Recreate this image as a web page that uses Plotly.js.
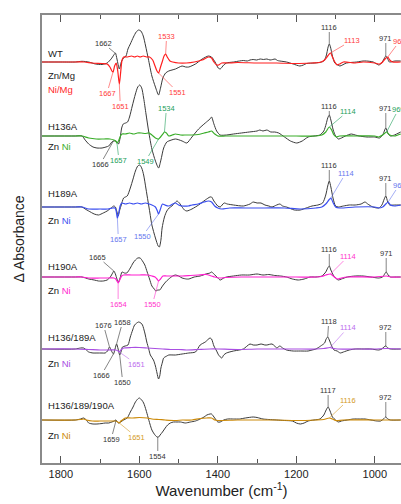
<!DOCTYPE html>
<html>
<head>
<meta charset="utf-8">
<script src="https://cdn.plot.ly/plotly-3.0.1.min.js"></script>
<style>html,body{margin:0;padding:0;background:#fff}#chart{width:401px;height:504px}</style>
</head>
<body>
<div id="chart"></div>
<script>
// Difference spectra, [wavenumber (cm-1), ΔA (arb. units)] relative to each panel baseline
const wtZnMg = [[1848,0],[1800,0],[1763,0],[1746,0.7],[1729,0],[1712,-2],[1695,-2.5],[1682,-1],[1672,3],[1665,7],[1661,9],[1657,3],[1651,-7],[1646,0],[1640,4],[1634,6],[1629,13],[1623,18],[1615,25],[1608,30],[1602,32],[1596,31],[1590,26],[1584,16],[1577,3],[1568,-14],[1559,-25],[1551,-33],[1546,-26],[1540,-16],[1533,-11],[1525,-9],[1508,-7],[1491,-4],[1482,-5],[1474,-5],[1457,-2],[1440,3],[1424,6],[1416,5],[1407,0],[1399,-6],[1394,-7],[1385,-3],[1378,-1],[1360,0],[1345,1],[1335,1.5],[1325,1],[1318,2],[1310,2.5],[1301,2],[1292,3],[1284,2.5],[1275,3],[1267,2],[1260,2.5],[1254,3],[1248,1.5],[1242,1],[1225,0],[1208,-2],[1191,-4],[1182,-3],[1174,-1.5],[1153,-1],[1136,0],[1130,1],[1124,6],[1119,15],[1116,18],[1113,15],[1108,6],[1102,-1],[1094,-3],[1089,-4],[1072,-1],[1046,0],[1030,1],[1021,1],[1004,0],[990,-3],[985,-2],[978,2],[972,6],[967,3],[963,0],[949,1],[934,1]];
const wtNiMg = [[1848,0],[1763,0],[1740,0],[1720,-1],[1695,-1.5],[1682,-2],[1675,-5],[1670,-9],[1667,-10],[1663,-4],[1659,-1],[1655,-9],[1651,-22],[1648,-12],[1644,2],[1640,5],[1630,5],[1620,6],[1612,5],[1605,6],[1598,5],[1590,6],[1582,5],[1574,5],[1566,2],[1560,-4],[1555,-9],[1551,-11],[1546,-5],[1541,1],[1537,6],[1533,8],[1529,5],[1522,1],[1515,0],[1500,-1],[1480,-1],[1460,0],[1440,2],[1424,5],[1416,4],[1410,0],[1403,-3],[1398,-3],[1390,-1],[1375,-1],[1350,-0.5],[1300,-1],[1250,-1],[1200,-1.5],[1160,-1],[1140,-0.5],[1128,2],[1120,6],[1113,9],[1108,5],[1102,0],[1096,-3],[1090,-2],[1080,0],[1050,-1],[1030,0],[1000,-1],[988,-2],[980,0],[974,3],[967,5],[962,2],[955,0],[934,0]];
const h136aZn = [[1848,0],[1763,0],[1746,0],[1738,-4],[1729,-8],[1718,-11],[1708,-12],[1695,-12],[1685,-11],[1678,-10],[1670,-6],[1666,-5],[1662,-5],[1657,-6],[1653,-8],[1649,-2],[1645,8],[1641,12],[1635,13],[1630,14],[1625,19],[1618,30],[1610,42],[1604,49],[1599,51],[1594,48],[1589,38],[1583,22],[1576,4],[1568,-13],[1559,-25],[1551,-32],[1545,-24],[1538,-12],[1530,-6],[1525,-5],[1508,-3],[1491,-5],[1479,-7],[1466,-1],[1449,7],[1432,13],[1420,17],[1416,19],[1410,12],[1403,5],[1394,1],[1378,1],[1360,2],[1340,3],[1320,4],[1300,5],[1293,6],[1285,5],[1275,6],[1265,4],[1255,4],[1245,3],[1230,-1],[1215,-5],[1199,-7],[1185,-5],[1170,-1],[1155,0],[1140,1],[1130,5],[1124,12],[1120,18],[1116,21],[1112,16],[1106,6],[1100,0],[1093,-3],[1085,-2],[1075,0],[1060,2],[1050,1],[1040,0],[1020,-1],[1000,-1],[988,-2],[980,1],[972,8],[966,2],[960,0],[950,1],[934,4]];
const h136aNi = [[1848,0],[1763,0],[1746,0],[1729,-2],[1710,-3],[1690,-3],[1675,-3],[1665,-4],[1660,-5],[1657,-7],[1653,-5],[1648,0],[1644,2],[1636,2],[1625,3],[1615,2],[1605,3],[1595,3],[1585,2.5],[1575,3],[1568,1],[1559,-2],[1551,-3],[1546,-1],[1540,2],[1536,4],[1531,3],[1525,0],[1516,1],[1508,2],[1495,1],[1480,1],[1466,1],[1450,1.5],[1435,3],[1424,4],[1416,5],[1408,2],[1400,0],[1380,0],[1340,0],[1300,0],[1250,0],[1200,0],[1150,0],[1135,1],[1125,4],[1116,9],[1110,6],[1104,1],[1098,-1],[1090,0],[1050,0],[1000,0],[990,-1],[980,1],[970,4],[962,1],[950,0],[934,2]];
const h189aZn = [[1848,0],[1763,0],[1746,0],[1738,-2],[1729,-4],[1715,-7],[1704,-8],[1692,-6],[1682,-4],[1672,-1],[1665,1],[1661,0],[1657,-5],[1654,-9],[1650,-3],[1646,2],[1640,9],[1631,11],[1623,19],[1616,28],[1610,36],[1604,41],[1599,42],[1594,39],[1589,32],[1583,18],[1578,6],[1573,-6],[1568,-18],[1559,-31],[1552,-39],[1549,-40],[1545,-33],[1542,-21],[1536,-10],[1530,-4],[1524,-1],[1517,1],[1510,4],[1504,6],[1498,4],[1491,0],[1485,-3],[1479,-4],[1466,-2],[1449,2],[1432,7],[1420,10],[1416,10],[1410,6],[1400,1],[1394,0],[1384,4],[1376,3],[1360,2],[1335,1],[1318,3],[1310,5],[1300,4],[1290,4],[1280,2],[1270,1],[1262,0],[1250,2],[1242,3],[1235,1],[1225,0],[1205,-3],[1190,-3],[1175,-1],[1160,1],[1145,2],[1133,4],[1125,12],[1120,21],[1116,26],[1112,20],[1106,8],[1100,1],[1093,0],[1080,1],[1065,2],[1050,2],[1035,3],[1025,5],[1018,3],[1005,0],[990,-1],[982,2],[976,8],[972,11],[967,5],[962,2],[950,2],[934,2]];
const h189aNi = [[1848,0],[1763,0],[1746,0],[1729,-2],[1700,-2],[1680,-2],[1668,-1],[1662,-1],[1659,-4],[1656,-11],[1653,-7],[1649,1],[1645,4],[1635,3],[1625,4],[1615,3],[1605,4],[1595,3],[1585,4],[1575,3],[1568,2],[1559,0],[1554,-4],[1551,-7],[1547,-3],[1541,3],[1535,2],[1525,1],[1515,3],[1508,4],[1500,2],[1491,1],[1475,1],[1466,2],[1450,3],[1435,5],[1424,6],[1416,5],[1408,1],[1400,-1],[1390,-2],[1370,-1],[1330,-1],[1280,-1],[1230,-1],[1190,-2],[1150,-1],[1135,0],[1125,3],[1117,7],[1112,9],[1106,4],[1100,0],[1090,-1],[1050,0],[1000,0],[990,-1],[980,0],[972,3],[966,5],[960,2],[950,1],[934,2]];
const h190aZn = [[1848,0],[1763,0],[1746,0],[1729,-2],[1715,-3],[1704,-4],[1692,-4],[1682,-3],[1674,0],[1668,4],[1665,6],[1661,3],[1657,-2],[1653,-5],[1649,-1],[1644,5],[1638,4],[1632,4],[1623,9],[1616,14],[1610,17],[1604,19],[1598,19],[1592,16],[1586,12],[1580,5],[1574,-2],[1568,-9],[1562,-12],[1558,-14],[1553,-13],[1548,-13],[1541,-9],[1533,-5],[1525,-2],[1515,1],[1508,2],[1500,1],[1491,-1],[1480,-2],[1474,-2],[1460,0],[1445,1],[1430,3],[1420,4],[1416,5],[1410,3],[1400,-1],[1394,-3],[1385,-1],[1378,0],[1360,1],[1340,2],[1320,2],[1300,3],[1285,2],[1270,2.5],[1255,1.5],[1240,1],[1225,0],[1210,-2],[1195,-3],[1180,-2],[1165,0],[1150,0],[1135,1],[1125,5],[1120,9],[1116,11],[1112,7],[1106,2],[1100,-1],[1093,-3],[1085,-2],[1070,0],[1050,1],[1030,1],[1010,0],[990,-1],[980,0],[975,3],[971,5],[966,2],[960,0],[950,0],[934,0]];
const h190aNi = [[1848,0],[1763,0],[1746,0],[1729,-1],[1700,-1],[1680,-1],[1665,-1],[1660,-2],[1657,-4],[1654,-6],[1650,-3],[1645,1],[1640,2],[1620,2],[1600,2],[1580,2],[1568,1],[1560,0],[1555,-2],[1551,-4],[1546,-2],[1540,1],[1530,1],[1510,1],[1490,1],[1470,1.5],[1450,2],[1430,2.5],[1416,1],[1408,0],[1395,-1],[1380,-0.5],[1340,0],[1300,0],[1250,0],[1200,0],[1150,0],[1135,0.5],[1125,2],[1113,3],[1106,1],[1100,-1],[1094,-2],[1085,-1],[1070,0],[1000,0],[970,1],[960,0],[934,0]];
const h136189aZn = [[1848,0],[1763,0],[1750,1],[1742,1],[1735,-1],[1729,-3],[1718,-4],[1708,-4],[1695,-4],[1687,-4],[1681,-2],[1676,2],[1671,-2],[1666,-5],[1662,0],[1658,5],[1654,0],[1650,-6],[1646,-2],[1643,2],[1636,3],[1629,4],[1623,12],[1617,19],[1612,24],[1602,27],[1596,26],[1592,24],[1586,16],[1581,7],[1576,0],[1572,-6],[1564,-11],[1559,-17],[1555,-24],[1551,-30],[1548,-27],[1545,-19],[1541,-13],[1538,-9],[1530,-7],[1525,-6],[1508,-6],[1491,-5],[1474,-4],[1457,-3],[1445,4],[1432,7],[1420,11],[1416,10],[1410,3],[1403,-2],[1398,-6],[1390,-9],[1385,-6],[1378,-4],[1360,-2],[1345,-1],[1335,0],[1318,5],[1310,4],[1300,4],[1290,5],[1280,4],[1275,4],[1262,5],[1255,3],[1250,1],[1242,3],[1235,1],[1225,-1],[1208,-2],[1190,-2],[1170,-2],[1160,-1],[1150,0],[1138,3],[1128,6],[1124,10],[1120,12],[1115,8],[1110,3],[1104,-1],[1096,-2],[1088,-4],[1080,-3],[1065,-1],[1050,0],[1030,0],[1010,0],[990,-1],[982,0],[977,2],[972,3],[967,1],[960,0],[934,0]];
const h136189aNi = [[1848,0],[1763,0],[1729,-0.5],[1700,-1],[1680,-1],[1660,-1],[1654,-2],[1651,-3],[1647,-1],[1640,1],[1620,1.5],[1600,1.5],[1580,1],[1560,0.5],[1540,0],[1520,-0.5],[1500,-0.5],[1480,-1],[1450,-0.5],[1420,0],[1400,0],[1350,-0.5],[1300,0],[1250,0],[1200,0],[1150,0],[1130,0.5],[1114,1.5],[1105,0.5],[1095,0],[1050,0],[1000,0],[970,0.5],[934,0]];
const h136189190aZn = [[1848,0],[1763,0],[1750,1],[1742,2],[1735,0],[1729,-3],[1718,-4],[1708,-4],[1695,-3.5],[1687,-3],[1678,-3],[1670,-2],[1664,-1],[1660,0],[1656,-2],[1653,-3],[1648,-2],[1640,0],[1631,2],[1623,8],[1616,13],[1610,18],[1604,21],[1600,22],[1594,20],[1589,17],[1583,10],[1578,3],[1573,-4],[1568,-10],[1562,-14],[1555,-17],[1551,-17],[1547,-15],[1541,-12],[1534,-8],[1528,-5],[1521,-3],[1513,-2],[1504,-2],[1495,-2],[1483,-3],[1470,-2],[1457,-1],[1445,1],[1435,3],[1428,5],[1420,6],[1416,6],[1408,2],[1400,-2],[1394,-2],[1385,0],[1375,1],[1360,1],[1345,1],[1330,2],[1310,3],[1300,2.5],[1285,1],[1270,0.5],[1250,0],[1230,-0.5],[1210,-1],[1200,-3],[1190,-4],[1180,-3],[1170,-1],[1155,0],[1140,1],[1130,5],[1124,10],[1119,13],[1114,9],[1108,3],[1100,0],[1093,-2],[1085,-1],[1070,0],[1055,1],[1040,1],[1025,1],[1010,0],[995,-1],[985,-1],[978,1],[972,3],[967,1],[960,0],[934,0]];
const h136189190aNi = [[1848,0],[1763,0],[1750,0.5],[1742,1],[1735,0],[1720,-1],[1700,-1],[1680,-1],[1665,-1],[1660,-1],[1655,-2],[1651,-3],[1647,-1],[1640,1],[1636,2],[1620,2],[1600,2.5],[1580,2],[1568,1],[1550,0.5],[1534,0],[1508,-0.5],[1490,0],[1466,0],[1445,1.5],[1428,2],[1416,2],[1408,0],[1400,-0.5],[1350,0],[1300,0],[1250,0],[1200,-0.5],[1150,0],[1130,0.5],[1116,2],[1108,1],[1100,-0.5],[1080,0],[1000,0],[934,0]];

const panelNames = ['WT','H136A','H189A','H190A','H136/189A','H136/189/190A'];
const znSeries = [wtZnMg, h136aZn, h189aZn, h190aZn, h136189aZn, h136189190aZn];
const niSeries = [wtNiMg, h136aNi, h189aNi, h190aNi, h136189aNi, h136189190aNi];
const niColors = ['#ff1f1f','#3aad2a','#3b4ff0','#ff1fcf','#a94fe2','#cc8a0a'];
const labelColors = ['#ff3b3b','#22a05a','#6677ee','#ff33cc','#bb6cee','#d49a25'];
const panelOffsets = [0,-74,-145,-215,-287,-358];

// peak labels: [panel, series('zn'|'ni'), wavenumber of mark, text, dx, dy]
const peakLabels = [
 [0,'zn',1662,'1662',-12,-10],[0,'ni',1667,'1667',-6,21],[0,'ni',1651,'1651',1,22],[0,'ni',1533,'1533',1,-18],[0,'ni',1551,'1551',19,19],
 [0,'zn',1116,'1116',0,-17],[0,'ni',1113,'1113',22,-13],[0,'zn',972,'971',0,-18],[0,'ni',967,'969',12,-16],
 [1,'zn',1666,'1666',-13,23],[1,'ni',1657,'1657',2,17],[1,'ni',1551,'1549',-13,22],[1,'ni',1536,'1534',2,-24],
 [1,'zn',1116,'1116',0,-9],[1,'ni',1116,'1114',19,-16],[1,'zn',972,'971',0,-20],[1,'ni',970,'969',12,-23],
 [2,'ni',1656,'1657',1,21],[2,'ni',1551,'1550',-16,22],[2,'zn',1116,'1116',0,-16],[2,'ni',1112,'1114',15,-25],[2,'zn',972,'971',0,-18],[2,'ni',966,'969',11,-17],
 [3,'zn',1665,'1665',-16,-14],[3,'ni',1654,'1654',0,21],[3,'ni',1551,'1550',-6,23],[3,'zn',1116,'1116',0,-17],[3,'ni',1113,'1114',18,-18],[3,'zn',971,'971',0,-19],
 [4,'zn',1676,'1676',-6,-22],[4,'zn',1658,'1658',6,-22],[4,'zn',1666,'1666',-12,21],[4,'zn',1650,'1650',3,27],[4,'ni',1651,'1651',17,12],
 [4,'zn',1120,'1118',1,-16],[4,'ni',1114,'1114',18,-20],[4,'zn',972,'972',0,-19],
 [5,'zn',1659,'1659',-5,19],[5,'ni',1651,'1651',17,14],[5,'zn',1553,'1554',0,19],[5,'zn',1119,'1117',0,-17],[5,'ni',1116,'1116',19,-18],[5,'zn',972,'972',0,-20]
];

const FONT = 'Liberation Sans, Arial, Helvetica, sans-serif';
const traces = [];
const annotations = [];

function valAt(series, w){
  let best = series[0];
  for (const p of series) if (Math.abs(p[0]-w) < Math.abs(best[0]-w)) best = p;
  return best[1];
}

for (let i=0;i<6;i++){
  const off = panelOffsets[i];
  traces.push({x: znSeries[i].map(p=>p[0]), y: znSeries[i].map(p=>p[1]+off), mode:'lines',
    line:{color:'#3a3a3a', width:1, shape:'spline', smoothing:0.7}, hoverinfo:'skip'});
}
for (let i=0;i<6;i++){
  const off = panelOffsets[i];
  traces.push({x: niSeries[i].map(p=>p[0]), y: niSeries[i].map(p=>p[1]+off), mode:'lines',
    line:{color:niColors[i], width:1.2, shape:'spline', smoothing:0.7}, hoverinfo:'skip'});
}

for (const [pi, s, w, txt, dx, dy] of peakLabels){
  const series = s==='zn' ? znSeries[pi] : niSeries[pi];
  const col = s==='zn' ? '#333333' : labelColors[pi];
  annotations.push({x:w, y:valAt(series,w)+panelOffsets[pi], xref:'x', yref:'y', text:txt,
    showarrow:true, arrowhead:0, arrowwidth:0.6, arrowcolor:col, ax:dx, ay:dy, standoff:0,
    font:{family:FONT, size:7.5, color:col}, borderpad:0});
}

// panel names
const nameDy = [9, 10, 14, 11, 12, 15];
const znDy = [-13, -10, -13, -13, -14, -15];
for (let i=0;i<6;i++){
  const base = panelOffsets[i];
  annotations.push({x:0.011, xref:'paper', y:base+nameDy[i], yref:'y', text:panelNames[i], showarrow:false,
    xanchor:'left', yanchor:'middle', font:{family:FONT, size:9.5, color:'#222'}});
  if (i===0){
    annotations.push({x:0.011, xref:'paper', y:base-13, yref:'y', text:'Zn/Mg', showarrow:false,
      xanchor:'left', yanchor:'middle', font:{family:FONT, size:9.5, color:'#222'}});
    annotations.push({x:0.011, xref:'paper', y:base-27, yref:'y', text:'Ni/Mg', showarrow:false,
      xanchor:'left', yanchor:'middle', font:{family:FONT, size:9.5, color:niColors[0]}});
  } else {
    annotations.push({x:0.011, xref:'paper', y:base+znDy[i], yref:'y',
      text:'Zn <span style="color:'+niColors[i]+'">Ni</span>', showarrow:false,
      xanchor:'left', yanchor:'middle', font:{family:FONT, size:9.5, color:'#222'}});
  }
}

const layout = {
  width:401, height:504,
  margin:{l:42, r:0, t:15, b:41},
  paper_bgcolor:'#fff', plot_bgcolor:'#fff',
  showlegend:false,
  font:{family:FONT, color:'#222'},
  xaxis:{range:[1848, 933.3], tick0:1000, dtick:200, ticks:'inside', ticklen:7, tickwidth:1, tickcolor:'#555',
    minor:{dtick:100, ticks:'inside', ticklen:4, tickwidth:1, tickcolor:'#555'},
    showline:true, linecolor:'#8a8a8a', linewidth:2, mirror:'ticks', showgrid:false, zeroline:false,
    tickfont:{family:FONT, size:11, color:'#222'},
    title:{text:'Wavenumber (cm<sup>-1</sup>)', font:{family:FONT, size:15, color:'#222'}, standoff:6}},
  yaxis:{range:[-401, 47], showticklabels:false, ticks:'', showline:true, linecolor:'#8a8a8a', linewidth:2,
    showgrid:false, zeroline:false,
    title:{text:'Δ Absorbance', font:{family:FONT, size:14, color:'#222'}, standoff:12}},
  annotations: annotations
};

Plotly.newPlot('chart', traces, layout, {staticPlot:true, displayModeBar:false});
</script>
</body>
</html>
